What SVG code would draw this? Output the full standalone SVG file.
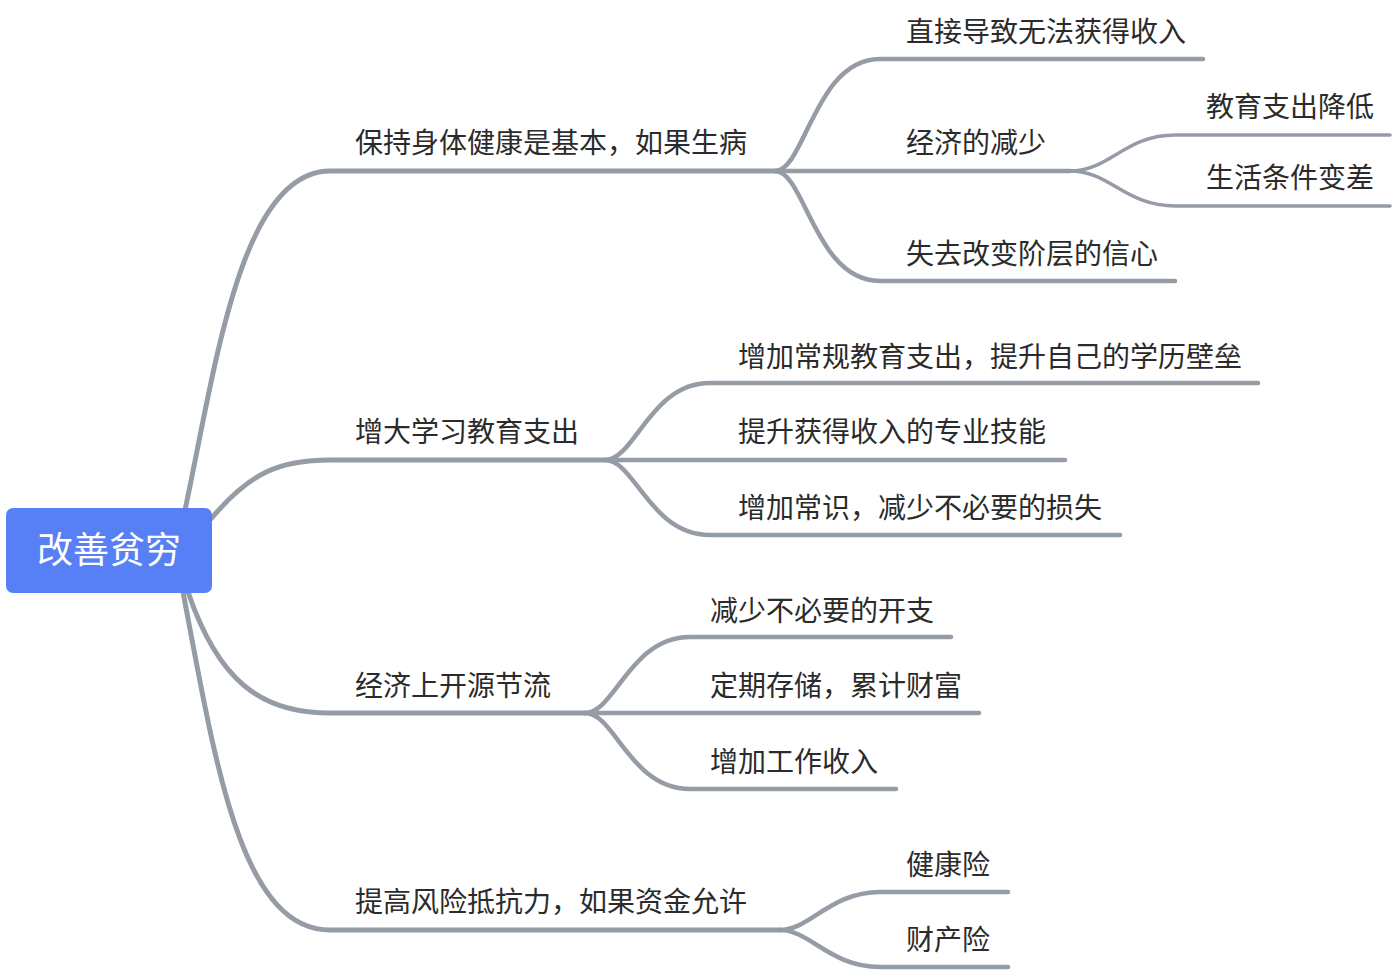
<svg xmlns="http://www.w3.org/2000/svg" width="1396" height="972" viewBox="0 0 1396 972">
<style>
text{font-family:"Noto Sans CJK SC","Noto Sans",sans-serif;fill:#2b2b2b;font-size:28px}
.root{fill:#fff;font-size:36px}
.l1{fill:none;stroke:#969ca5;stroke-width:5;stroke-linecap:round}
.l2{fill:none;stroke:#969ca5;stroke-width:4.5;stroke-linecap:round}
.l3{fill:none;stroke:#969ca5;stroke-width:3.5;stroke-linecap:round}
</style>
<rect width="1396" height="972" fill="#fff"/>
<g id="connectors">
<path class="l1" d="M185,510 C215,370 240,171 330,171 H775"/>
<path class="l1" d="M210,520 C250,472 280,460 330,460 H605"/>
<path class="l1" d="M188,592 C218,680 260,713 330,713 H585"/>
<path class="l1" d="M183,592 C215,760 240,930 330,930 H780"/>
<path class="l2" d="M775,171 C805,171 815,59 880,59 H1203"/>
<path class="l2" d="M775,171 H1070"/>
<path class="l2" d="M775,171 C805,171 815,281 880,281 H1175"/>
<path class="l3" d="M1070,171 C1110,171 1125,135 1175,135 H1390"/>
<path class="l3" d="M1070,171 C1110,171 1125,206 1175,206 H1390"/>
<path class="l2" d="M605,460 C635,460 650,383 710,383 H1258"/>
<path class="l2" d="M605,460 H1065"/>
<path class="l2" d="M605,460 C635,460 650,535 710,535 H1120"/>
<path class="l2" d="M585,713 C615,713 630,637 690,637 H951"/>
<path class="l2" d="M585,713 H979"/>
<path class="l2" d="M585,713 C615,713 630,789 690,789 H896"/>
<path class="l2" d="M780,930 C810,930 830,892 880,892 H1008"/>
<path class="l2" d="M780,930 C810,930 830,967 880,967 H1008"/>
</g>
<g id="root"><rect x="6" y="508" width="206" height="85" rx="7" fill="#5880f6"/><text class="root" x="109" y="563" text-anchor="middle">改善贫穷</text></g>
<g id="n1"><text x="355" y="153">保持身体健康是基本，如果生病</text></g>
<g id="n1a"><text x="906" y="42">直接导致无法获得收入</text></g>
<g id="n1b"><text x="906" y="153">经济的减少</text></g>
<g id="n1b1"><text x="1206" y="117">教育支出降低</text></g>
<g id="n1b2"><text x="1206" y="188">生活条件变差</text></g>
<g id="n1c"><text x="906" y="264">失去改变阶层的信心</text></g>
<g id="n2"><text x="355" y="442">增大学习教育支出</text></g>
<g id="n2a"><text x="738" y="367">增加常规教育支出，提升自己的学历壁垒</text></g>
<g id="n2b"><text x="738" y="442">提升获得收入的专业技能</text></g>
<g id="n2c"><text x="738" y="518">增加常识，减少不必要的损失</text></g>
<g id="n3"><text x="355" y="696">经济上开源节流</text></g>
<g id="n3a"><text x="710" y="621">减少不必要的开支</text></g>
<g id="n3b"><text x="710" y="696">定期存储，累计财富</text></g>
<g id="n3c"><text x="710" y="772">增加工作收入</text></g>
<g id="n4"><text x="355" y="912">提高风险抵抗力，如果资金允许</text></g>
<g id="n4a"><text x="906" y="875">健康险</text></g>
<g id="n4b"><text x="906" y="950">财产险</text></g>
</svg>
